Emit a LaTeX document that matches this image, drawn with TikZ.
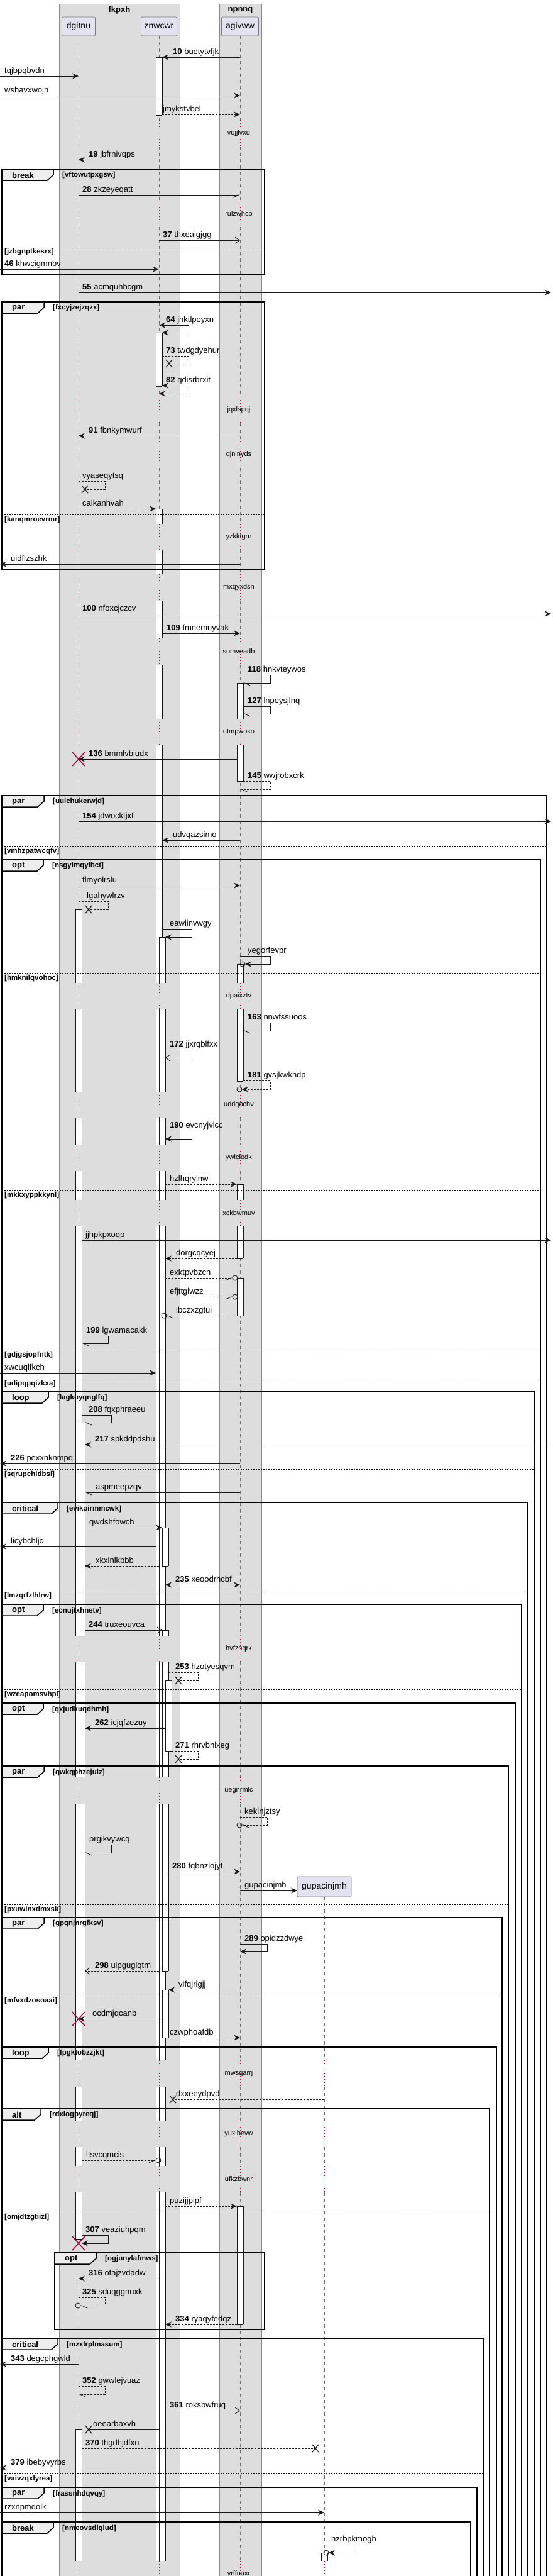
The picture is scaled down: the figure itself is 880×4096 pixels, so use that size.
\documentclass[tikz,border=0pt]{standalone}
\usepackage{fontspec}
\setmainfont{Liberation Sans}
\usetikzlibrary{arrows.meta}
\definecolor{boxgray}{HTML}{DDDDDD}
\definecolor{boxedge}{HTML}{8A8A8A}
\definecolor{partfill}{HTML}{E2E2F0}
\definecolor{partline}{HTML}{7A7A7A}
\definecolor{lifegray}{HTML}{707070}
\definecolor{lifered}{HTML}{A80036}
\definecolor{tabfill}{HTML}{EEEEEE}
\definecolor{ink}{HTML}{181818}

\tikzset{
  part/.style={draw=partline, fill=partfill, rounded corners=2pt, line width=0.8pt, inner sep=0pt, minimum height=30pt, font=\fontsize{14}{16}\selectfont},
  boxtitle/.style={inner sep=0pt, font=\bfseries\fontsize{13}{15}\selectfont},
  life/.style={draw=lifegray, line width=0.6pt, dash pattern=on 5pt off 5pt},
  lifedot/.style={draw=lifered, line width=0.9pt, dash pattern=on 1pt off 4pt},
  msg/.style={draw=ink, line width=0.9pt},
  tipfull/.style={-{Stealth[length=10pt,width=9pt,inset=3.5pt]}},
  tipboth/.style={{Stealth[length=10pt,width=9pt,inset=3.5pt]}-{Stealth[length=10pt,width=9pt,inset=3.5pt]}},
  tipopen/.style={-{Straight Barb[length=7pt,width=10pt]}},
  tiphalf/.style={-{Straight Barb[left,length=9pt,width=8pt]}},
  tiphalfr/.style={-{Straight Barb[right,length=9pt,width=8pt]}},
  tipnone/.style={},
  dsh/.style={dash pattern=on 3pt off 2pt},
  lbl/.style={anchor=base west, inner sep=0pt, font=\fontsize{13}{15}\selectfont},
  delaylbl/.style={inner sep=0pt, font=\fontsize{11}{13}\selectfont},
  actline/.style={draw=ink, line width=0.8pt},
  grpline/.style={draw=black, line width=1.5pt},
  grptab/.style={draw=black, fill=tabfill, line width=1.5pt},
  tablbl/.style={anchor=west, inner sep=0pt, font=\bfseries\fontsize{13}{15}\selectfont},
  guardlbl/.style={anchor=west, inner sep=0pt, font=\bfseries\fontsize{11.5}{13}\selectfont},
  sepline/.style={draw=black, line width=0.8pt, dash pattern=on 2pt off 2pt},
  killx/.style={draw=lifered, line width=1.5pt},
  lostx/.style={draw=ink, line width=1.2pt},
}

\newcommand{\sn}[1]{\textbf{#1}}
\newcommand{\Msg}[6][tipfull]{%
  \coordinate (msgfrom) at (#2,#4);
  \coordinate (msgto) at (#3,#4);
  \draw[msg,#1] (msgfrom) -- (msgto);
  \node[lbl] at (#5,#4-5) {#6};}
\newcommand{\SelfMsg}[8][tipfull]{%
  \coordinate (selffrom) at (#2,#3);
  \coordinate (selfto) at (#6,#5);
  \draw[msg,#1] (selffrom) -- (#4,#3) -- (#4,#5) -- (selfto);
  \node[lbl] at (#7,#3-5) {#8};}
\newcommand{\ActSeg}[5]{%
  \fill[white] (#1-5,#2) rectangle (#1+5,#3);
  \draw[actline] (#1-5,#2) -- (#1-5,#3) (#1+5,#2) -- (#1+5,#3);
  \draw[actline,draw opacity=#4] (#1-5,#2) -- (#1+5,#2);
  \draw[actline,draw opacity=#5] (#1-5,#3) -- (#1+5,#3);}
\newcommand{\Grp}[7]{%
  \draw[grpline] (#1,#2) rectangle (#3,#4);
  \filldraw[grptab] (#1,#2) -- (#5,#2) -- (#5,#2+9) -- (#5-10,#2+18) -- (#1,#2+18) -- cycle;
  \node[tablbl] (tab#2) at (#1+16,#2+10) {#6};
  \node[guardlbl] (guard#2) at (#5+14,#2+10) {[#7]};}
\newcommand{\GrpSep}[3]{%
  \draw[sepline] (3,#1) -- (#2,#1);
  \node[guardlbl] (sep#1) at (7,#1+8.5) {[#3]};}
\newcommand{\Wait}[2]{\node[delaylbl] (wait#1) at (380,#1) {#2};}
\newcommand{\LostX}[2]{\draw[lostx] (#1-5,#2-6) -- (#1+5,#2+6) (#1-5,#2+6) -- (#1+5,#2-6);}
\newcommand{\KillX}[2]{\draw[killx] (#1-10,#2-11) -- (#1+10,#2+11) (#1-10,#2+11) -- (#1+10,#2-11);}
\newcommand{\Ring}[2]{\draw[msg] (#1,#2) circle[radius=4pt];}

\begin{document}
\begin{tikzpicture}[x=1pt, y=-1pt]
\useasboundingbox (0,0) rectangle (880,4096);
\fill[boxgray] (94,6) rectangle (286,4110);
\fill[boxgray] (349,6) rectangle (416,4110);
\draw[boxedge, line width=0.8pt] (94,4110) -- (94,6) -- (286,6) -- (286,4110);
\draw[boxedge, line width=0.8pt] (349,4110) -- (349,6) -- (416,6) -- (416,4110);
\node[boxtitle] (fkpxh) at (190,16) {fkpxh};
\node[boxtitle] (npnnq) at (382.5,16) {npnnq};
\node[part, minimum width=53pt] (dgitnu) at (125,42) {dgitnu};
\node[part, minimum width=57pt] (znwcwr) at (253,42) {znwcwr};
\node[part, minimum width=59pt] (agivww) at (382,42) {agivww};
\node[part, minimum width=86pt, minimum height=32pt] (gupacinjmh) at (516,3000) {gupacinjmh};

\foreach \lx in {125,253,382} {
  \foreach \ya/\yb in {57/191, 233/319, 361/631, 673/702, 744/833, 875/913, 955/1015, 1057/1143, 1185/1563, 1605/1736, 1778/1820, 1862/1908, 1950/2601, 2643/2826, 2868/3276, 3318/3372, 3414/3444, 3486/4072}
    {\draw[life] (\lx,\ya) -- (\lx,\yb);}
  \foreach \d in {212, 340, 652, 723, 854, 934, 1036, 1164, 1584, 1757, 1841, 1929, 2622, 2847, 3297, 3393, 3465, 4093}
    {\draw[lifedot] (\lx,\d-21) -- (\lx,\d+21);}
}
\foreach \ya/\yb in {3016/3276, 3318/3372, 3414/3444, 3486/4072}
  {\draw[life] (516,\ya) -- (516,\yb);}
\foreach \d in {3297, 3393, 3465, 4093}
  {\draw[lifedot] (516,\d-21) -- (516,\d+21);}

\Wait{212}{vojjlvxd}
\Wait{340}{rulzwhco}
\Wait{652}{jqxlspqj}
\Wait{723}{qjninyds}
\Wait{854}{yzkktgrn}
\Wait{934}{mxqyxdsn}
\Wait{1036}{somveadb}
\Wait{1164}{utmpwoko}
\Wait{1584}{dpaixztv}
\Wait{1757}{uddqochv}
\Wait{1841}{ywlclodk}
\Wait{1929}{xckbwmuv}
\Wait{2622}{hvfznqrk}
\Wait{2847}{uegnrmlc}
\Wait{3297}{mwsqarrj}
\Wait{3393}{yuxlbevw}
\Wait{3465}{ufkzbwnr}
\Wait{4093}{yrffuuxr}

\foreach \ya/\yb/\ta/\tb in {91/183/1/1, 529/614/1/1, 809/833/1/0, 875/913/0/0, 955/1015/0/0, 1057/1143/0/0, 1185/1563/0/0, 1605/1736/0/0, 1778/1820/0/0, 1862/1908/0/0, 1950/2601/0/0, 2643/2826/0/0, 2868/3276/0/0, 3318/3372/0/0, 3414/3444/0/0, 3486/4072/0/0}
  {\ActSeg{253}{\ya}{\yb}{\ta}{\tb}}
\foreach \ya/\yb/\ta/\tb in {1490/1563/1/0, 1605/1736/0/0, 1778/1820/0/0, 1862/1908/0/0, 1950/2601/0/0, 2643/2826/0/0, 2868/3276/0/0, 3318/3372/0/0, 3414/3444/0/0, 3486/4072/0/0}
  {\ActSeg{258}{\ya}{\yb}{\ta}{\tb}}
\foreach \ya/\yb/\ta/\tb in {2429/2490/1/1, 2592/2601/1/0, 2643/2826/0/0, 2868/3134/0/1, 3164/3240/1/1}
  {\ActSeg{263}{\ya}{\yb}{\ta}{\tb}}
\ActSeg{268}{2672}{2784}{1}{1}
\foreach \ya/\yb/\ta/\tb in {1446/1563/1/0, 1605/1736/0/0, 1778/1820/0/0, 1862/1908/0/0, 1950/2601/0/0, 2643/2826/0/0, 2868/3276/0/0, 3318/3372/0/0, 3414/3444/0/0, 3486/3560/0/1, 3863/4072/1/0}
  {\ActSeg{125}{\ya}{\yb}{\ta}{\tb}}
\foreach \ya/\yb/\ta/\tb in {2262/2601/1/0, 2643/2826/0/0, 2868/3210/0/1}
  {\ActSeg{130}{\ya}{\yb}{\ta}{\tb}}
\foreach \ya/\yb/\ta/\tb in {1086/1143/1/0, 1185/1242/0/1, 1533/1563/1/0, 1605/1719/0/1, 1883/1908/1/0, 1950/2001/0/1, 2032/2092/1/1, 3508/3696/1/1}
  {\ActSeg{382}{\ya}{\yb}{\ta}{\tb}}
\ActSeg{516}{4059}{4072}{1}{0}

\Grp{3}{269}{421}{437}{85}{break}{vftowutpxgsw}
\GrpSep{392}{421}{jzbgnptkesrx}
\Grp{3}{480}{421}{905}{70}{par}{fxcyjzejzqzx}
\GrpSep{818}{421}{kanqmroevrmr}
\Grp{3}{1265}{870}{4110}{70}{par}{uuichukerwjd}
\GrpSep{1345}{870}{vmhzpatwcqfv}
\Grp{3}{1367}{860}{4110}{69}{opt}{nsgyimqylbct}
\GrpSep{1547}{860}{hmknilqvohoc}
\GrpSep{1892}{860}{mkkxyppkkynl}
\GrpSep{2146}{860}{gdjgsjopfntk}
\GrpSep{2192}{860}{udipqpqizkxa}
\Grp{3}{2213}{850}{4110}{77}{loop}{lagkuyqnglfq}
\GrpSep{2336}{850}{sqrupchidbsl}
\Grp{3}{2389}{840}{4110}{92}{critical}{evikoirmmcwk}
\GrpSep{2529}{840}{lmzqrfzlhlrw}
\Grp{3}{2551}{830}{4110}{69}{opt}{ecnujtxhnetv}
\GrpSep{2686}{830}{wzeapomsvhpl}
\Grp{3}{2708}{820}{4110}{69}{opt}{qxjudkuqdhmh}
\Grp{3}{2808}{809}{4110}{70}{par}{qwkqphzejulz}
\GrpSep{3028}{809}{pxuwinxdmxsk}
\Grp{3}{3049}{799}{4110}{70}{par}{gpqnjnrgfksv}
\GrpSep{3173}{799}{mfvxdzosoaai}
\Grp{3}{3255}{790}{4110}{77}{loop}{fpgktobzzjkt}
\Grp{3}{3353}{779}{4110}{65}{alt}{rdxlogpyreqj}
\GrpSep{3517}{779}{omjdtzgtiizl}
\Grp{87}{3582}{421}{3704}{153}{opt}{ogjunylafmws}
\Grp{3}{3718}{769}{4110}{92}{critical}{mzxlrplmasum}
\GrpSep{3933}{769}{vaivzqxlyrea}
\Grp{3}{3955}{759}{4110}{70}{par}{frassnhdqvqy}
\Grp{3}{4010}{749}{4110}{85}{break}{nmeovsdlqlud}

\Msg{382}{258}{91}{275}{\sn{10} buetytvfjk}
\Msg{0}{125}{121}{7}{tqjbpqbvdn}
\Msg{0}{382}{152}{7}{wshavxwojh}
\Msg[tipfull,dsh]{258}{382}{182}{259}{jmykstvbel}
\Msg{253}{125}{254}{141}{\sn{19} jbfrnivqps}
\Msg[tiphalfr]{125}{382}{310}{131}{\sn{28} zkzeyeqatt}
\Msg[tipopen]{253}{382}{382}{259}{\sn{37} thxeaigjgg}
\Msg{0}{253}{428}{7}{\sn{46} khwcigmnbv}
\Msg{125}{877}{465}{131}{\sn{55} acmquhbcgm}
\SelfMsg[tipboth]{253}{517}{300}{529}{258}{264}{\sn{64} jhktlpoyxn}
\SelfMsg[tipnone,dsh]{258}{566}{300}{578}{269}{264}{\sn{73} twdgdyehur}
\LostX{269}{578}
\SelfMsg[tipboth,dsh]{258}{613}{300}{626}{253}{264}{\sn{82} qdisrbrxit}
\Msg{382}{125}{693}{141}{\sn{91} fbnkymwurf}
\SelfMsg[tipnone,dsh]{125}{765}{167}{778}{135}{131}{vyaseqytsq}
\LostX{135}{778}
\Msg[tipfull,dsh]{125}{248}{809}{131}{caikanhvah}
\Msg{382}{0}{897}{17}{uidflzszhk}
\Msg{125}{877}{976}{131}{\sn{100} nfoxcjczcv}
\Msg{258}{382}{1007}{265}{\sn{109} fmnemuyvak}
\SelfMsg[tiphalf]{382}{1073}{430}{1086}{387}{394}{\sn{118} hnkvteywos}
\SelfMsg[tiphalf]{387}{1123}{430}{1135}{387}{394}{\sn{127} lnpeysjlnq}
\Msg{377}{125}{1207}{141}{\sn{136} bmmlvbiudx}
\KillX{125}{1207}
\SelfMsg[tiphalf,dsh]{387}{1242}{430}{1255}{382}{394}{\sn{145} wwjrobxcrk}
\Msg{125}{877}{1306}{131}{\sn{154} jdwocktjxf}
\Msg{382}{258}{1336}{275}{udvqazsimo}
\Msg{125}{382}{1408}{131}{flmyolrslu}
\SelfMsg[tipnone,dsh]{125}{1433}{172}{1446}{141}{138}{lgahywlrzv}
\LostX{141}{1446}
\SelfMsg{258}{1477}{305}{1490}{263}{270}{eawiinvwgy}
\SelfMsg{382}{1520}{430}{1533}{390}{394}{yegorfevpr}
\Ring{386}{1533}
\SelfMsg[tiphalf]{387}{1626}{430}{1639}{387}{394}{\sn{163} nnwfssuoos}
\SelfMsg[tipopen]{263}{1669}{305}{1682}{263}{270}{\sn{172} jjxrqblfxx}
\SelfMsg[tipfull,dsh]{387}{1718}{430}{1732}{385}{394}{\sn{181} gvsjkwkhdp}
\Ring{381}{1732}
\SelfMsg{263}{1798}{305}{1811}{263}{270}{\sn{190} evcnyjvlcc}
\Msg[tipfull,dsh]{263}{377}{1883}{270}{hzlhqrylnw}
\Msg{130}{877}{1972}{136}{jjhpkpxoqp}
\Msg[tipfull,dsh]{377}{263}{2001}{280}{dorgcqcyej}
\Msg[tiphalfr,dsh]{263}{370}{2032}{270}{exktpvbzcn}
\Ring{374}{2032}
\Msg[tiphalfr,dsh]{263}{370}{2062}{270}{efjttglwzz}
\Ring{374}{2062}
\Msg[tiphalf,dsh]{377}{265}{2092}{280}{ibczxzgtui}
\Ring{261}{2092}
\SelfMsg[tiphalf]{130}{2124}{172}{2136}{130}{137}{\sn{199} lgwamacakk}
\Msg{0}{248}{2183}{7}{xwcuqlfkch}
\SelfMsg[tiphalf]{130}{2250}{177}{2262}{135}{141}{\sn{208} fqxphraeeu}
\Msg{880}{135}{2297}{151}{\sn{217} spkddpdshu}
\Msg{382}{0}{2327}{17}{\sn{226} pexxnknmpq}
\Msg[tiphalf]{382}{135}{2373}{152}{aspmeepzqv}
\Msg{135}{258}{2429}{142}{qwdshfowch}
\Msg{248}{0}{2459}{17}{licybchljc}
\Msg[tipfull,dsh]{253}{135}{2490}{152}{xkxlnlkbbb}
\Msg[tipboth]{263}{382}{2520}{279}{\sn{235} xeoodrhcbf}
\Msg[tipopen]{135}{258}{2592}{141}{\sn{244} truxeouvca}
\SelfMsg[tipnone,dsh]{268}{2659}{315}{2672}{284}{279}{\sn{253} hzotyesqvm}
\LostX{284}{2672}
\Msg{263}{135}{2748}{151}{\sn{262} icjqfzezuy}
\SelfMsg[tipnone,dsh]{273}{2784}{315}{2797}{284}{279}{\sn{271} rhrvbnlxeg}
\LostX{284}{2797}
\SelfMsg[tiphalf,dsh]{382}{2889}{425}{2902}{385}{389}{keklnjztsy}
\Ring{381}{2902}
\SelfMsg[tiphalf]{135}{2933}{177}{2946}{135}{142}{prgikvywcq}
\Msg{268}{382}{2976}{274}{\sn{280} fqbnzlojyt}
\Msg{382}{473}{3006}{389}{gupacinjmh}
\SelfMsg{382}{3091}{425}{3103}{382}{389}{\sn{289} opidzzdwye}
\Msg[tipopen,dsh]{253}{135}{3134}{151}{\sn{298} ulpguglqtm}
\Msg{382}{268}{3164}{284}{vifqjrigjj}
\Msg{258}{125}{3210}{147}{ocdmjqcanb}
\KillX{125}{3210}
\Msg[tipfull,dsh]{268}{382}{3240}{270}{czwphoafdb}
\Msg[tipnone,dsh]{516}{275}{3338}{280}{dxxeeydpvd}
\LostX{275}{3338}
\Msg[tiphalfr,dsh]{130}{248}{3435}{137}{ltsvcqmcis}
\Ring{252}{3435}
\Msg[tipfull,dsh]{263}{377}{3508}{270}{puzijjplpf}
\SelfMsg{130}{3554}{172}{3567}{130}{136}{\sn{307} veaziuhpqm}
\KillX{125}{3567}
\Msg{253}{125}{3623}{141}{\sn{316} ofajzvdadw}
\SelfMsg[tiphalf,dsh]{125}{3653}{167}{3666}{128}{131}{\sn{325} sduqggnuxk}
\Ring{124}{3666}
\Msg[tipfull,dsh]{377}{263}{3696}{279}{\sn{334} ryaqyfedqz}
\Msg{125}{0}{3759}{17}{\sn{343} degcphgwld}
\SelfMsg[tiphalf,dsh]{125}{3794}{167}{3807}{125}{131}{\sn{352} gwwlejvuaz}
\Msg[tipopen]{263}{382}{3833}{270}{\sn{361} roksbwfruq}
\Msg[tipnone]{253}{141}{3863}{148}{oeearbaxvh}
\LostX{141}{3863}
\Msg[tipnone,dsh]{130}{502}{3893}{136}{\sn{370} thgdhjdfxn}
\LostX{502}{3893}
\Msg{248}{0}{3924}{17}{\sn{379} ibebyvyrbs}
\Msg{0}{516}{3995}{7}{rzxnpmqolk}
\SelfMsg{516}{4046}{563}{4059}{523}{527}{nzrbpkmogh}
\Ring{519}{4059}
\end{tikzpicture}
\end{document}
